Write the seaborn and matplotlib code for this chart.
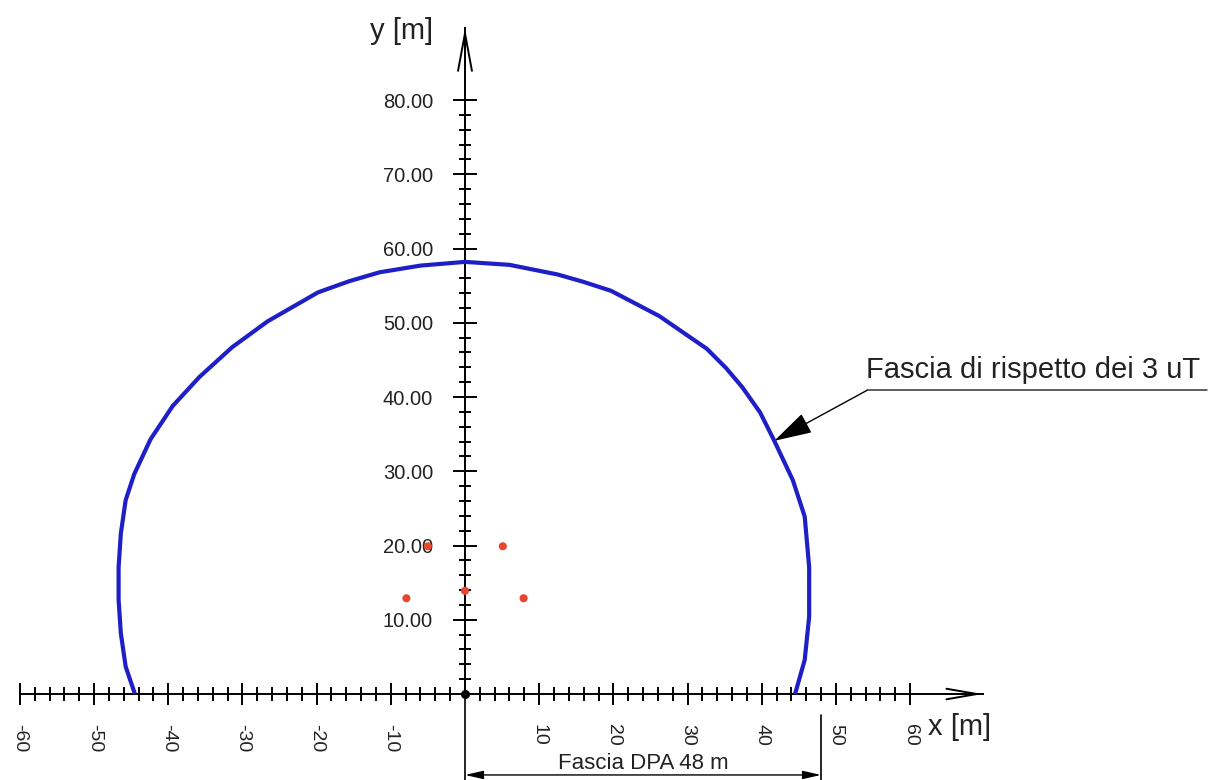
import numpy as np
import matplotlib
matplotlib.use("Agg")
import matplotlib.pyplot as plt
import seaborn as sns

# curva della fascia di rispetto 3 uT (da sinistra a destra)
curva_x = [-44.5, -45.75, -46.4, -46.7, -46.7, -46.4, -45.75, -44.6, -42.4, -39.4, -35.8, -31.4, -26.6,
           -19.8, -15.6, -11.5, -6.0, 0.0,
           6.0, 12.5, 16.0, 19.7, 26.2, 32.6, 35.2, 37.4, 39.8, 41.7, 44.2, 45.8, 46.4, 46.4, 45.8, 44.5]
curva_y = [0.0, 3.7, 8.2, 12.7, 17.1, 21.6, 26.1, 29.6, 34.3, 38.8, 42.7, 46.7, 50.2,
           54.1, 55.6, 56.8, 57.7, 58.2,
           57.8, 56.5, 55.5, 54.3, 50.9, 46.5, 43.9, 41.3, 37.9, 34.1, 28.8, 23.9, 17.1, 10.4, 4.6, 0.0]

# conduttori
cond_x = [-5.0, 5.1, -7.9, 7.9, 0.0]
cond_y = [19.9, 19.9, 12.9, 12.9, 13.9]

# assi
x_major = [-60, -50, -40, -30, -20, -10, 10, 20, 30, 40, 50, 60]
x_labels = ["-60", "-50", "-40", "-30", "-20", "-10", "10", "20", "30", "40", "50", "60"]
x_minor = [v for v in range(-58, 60, 2) if v % 10 != 0]
x_minor_grigi = [-56, -54, -52]
y_major = [10, 20, 30, 40, 50, 60, 70, 80]
y_labels = ["10.00", "20.00", "30.00", "40.00", "50.00", "60.00", "70.00", "80.00"]
y_minor = [v for v in range(2, 80, 2) if v % 10 != 0]
x_freccia = 69.8
y_freccia = 89.7

# quote
dpa = 48
dpa_testo = "Fascia DPA 48 m"
nota_testo = "Fascia di rispetto dei 3 uT"
nota_punta = (41.7, 34.1)
nota_gomito = (54.2, 40.9)
nota_fine = 100.1

sns.set_theme(style="white")
plt.rcParams['font.family'] = ['Liberation Sans', 'DejaVu Sans']
plt.rcParams['axes.unicode_minus'] = False

fig = plt.figure(figsize=(12.2, 7.8), dpi=100)
ax = fig.add_axes([0, 0, 1, 1])
ax.set_xlim(-62.69, 101.79)
ax.set_ylim(-11.58, 93.47)

# spine centrati nell'origine
for s in ['top', 'right']:
    ax.spines[s].set_visible(False)
ax.spines['left'].set_position(('data', 0))
ax.spines['bottom'].set_position(('data', 0))
ax.spines['left'].set_bounds(0, y_freccia)
ax.spines['bottom'].set_bounds(-60, x_freccia)
for s in ['left', 'bottom']:
    ax.spines[s].set_color('black')
    ax.spines[s].set_linewidth(1.4)

ax.set_xticks(x_major, labels=x_labels)
ax.set_xticks(x_minor, minor=True)
ax.set_yticks(y_major, labels=y_labels)
ax.set_yticks(y_minor, minor=True)
ax.tick_params(axis='x', which='major', direction='inout', length=15.8, width=1.4, pad=13.5,
               labelsize=14, labelrotation=270, colors='black', bottom=True)
ax.tick_params(axis='x', which='minor', direction='inout', length=10, width=1.4, colors='black', bottom=True)
ax.tick_params(axis='y', which='major', direction='inout', length=16.6, width=1.4, pad=14.7,
               labelsize=14.5, colors='black', left=True)
ax.tick_params(axis='y', which='minor', direction='inout', length=8.6, width=1.4, colors='black', left=True)
for lab in ax.get_xticklabels():
    lab.set_color('#222222')
for lab in ax.get_yticklabels():
    lab.set_color('#222222')
for t in ax.xaxis.get_minor_ticks():
    if round(t.get_loc()) in x_minor_grigi:
        t.tick1line.set_color('#999999')

# frecce degli assi
ax.annotate('', xy=(x_freccia, 0), xytext=(x_freccia - 5, 0),
            arrowprops=dict(arrowstyle='->,head_length=2.2,head_width=0.38', lw=1.4, color='black',
                            shrinkA=0, shrinkB=0, mutation_scale=10))
ax.annotate('', xy=(0, y_freccia), xytext=(0, y_freccia - 5),
            arrowprops=dict(arrowstyle='->,head_length=2.7,head_width=0.5', lw=1.4, color='black',
                            shrinkA=0, shrinkB=0, mutation_scale=10))
ax.text(x_freccia - 7.4, -4.5, "x [m]", fontsize=21, color='#222222', ha='left', va='center')
ax.text(-4.3, 89.3, "y [m]", fontsize=21, color='#222222', ha='right', va='center')

# curva e conduttori
sns.lineplot(x=curva_x, y=curva_y, sort=False, estimator=None, color='#1f1fc8', lw=3.0, ax=ax, zorder=3,
             solid_joinstyle='round', solid_capstyle='butt')
sns.scatterplot(x=cond_x, y=cond_y, color='#e8472f', s=34, edgecolor='none', ax=ax, zorder=4)
ax.scatter([0], [0], color='black', s=30, zorder=5)

# quota DPA
ax.plot([0, 0], [0, -11.58], color='black', lw=1.2)
ax.plot([dpa, dpa], [-2.8, -11.58], color='black', lw=1.2)
ax.annotate('', xy=(0, -10.9), xytext=(dpa, -10.9),
            arrowprops=dict(arrowstyle='<|-|>,head_length=1.1,head_width=0.25', lw=1.0, color='black',
                            shrinkA=0, shrinkB=0, mutation_scale=10))
ax.text(dpa / 2, -9.3, dpa_testo, fontsize=16, color='#222222', ha='center', va='center')

# richiamo fascia di rispetto
ax.annotate('', xy=nota_punta, xytext=nota_gomito,
            arrowprops=dict(arrowstyle='-|>,head_length=2.4,head_width=0.68', lw=1.0, color='black',
                            shrinkA=0, shrinkB=0, mutation_scale=10))
ax.plot([nota_gomito[0], nota_fine], [nota_gomito[1], nota_gomito[1]], color='#333333', lw=1.1)
ax.text(nota_gomito[0] - 0.2, nota_gomito[1] + 1.7, nota_testo, fontsize=21, color='#222222',
        ha='left', va='baseline')

fig.savefig("out.png", dpi=100, facecolor='white')
